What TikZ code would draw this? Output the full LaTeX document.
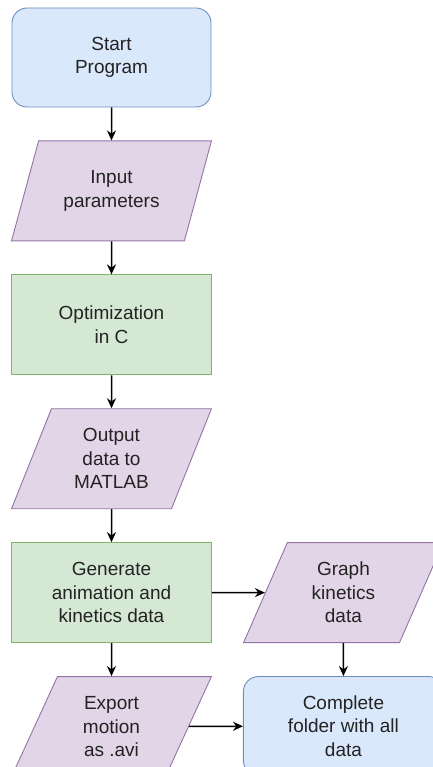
\documentclass[tikz,border=0pt]{standalone}
\usepackage{fontspec}
\setmainfont{Liberation Sans}
\usetikzlibrary{arrows.meta,shapes.geometric,positioning}
\definecolor{fcblue}{RGB}{218,232,252}
\definecolor{fcbluedraw}{RGB}{108,142,191}
\definecolor{fcgreen}{RGB}{213,232,212}
\definecolor{fcgreendraw}{RGB}{130,179,102}
\definecolor{fcpurple}{RGB}{225,213,231}
\definecolor{fcpurpledraw}{RGB}{150,115,166}
\definecolor{fctext}{RGB}{35,35,35}
\tikzstyle{arrow} = [line width=1.5pt,-{Stealth[length=10pt,width=9pt]},color=black]
\tikzstyle{terminal} = [rectangle, rounded corners=15pt, minimum width=199pt, minimum height=99pt, align=center, draw=fcbluedraw, fill=fcblue, line width=0.9pt]
\tikzstyle{process} = [rectangle, minimum width=200pt, minimum height=100pt, align=center, draw=fcgreendraw, fill=fcgreen, line width=0.9pt]
\tikzstyle{io} = [trapezium, trapezium left angle=68, trapezium right angle=112, trapezium stretches=true, minimum width=200pt, minimum height=100pt, align=center, draw=fcpurpledraw, fill=fcpurple, line width=0.9pt]

\begin{document}
\begin{tikzpicture}[node distance=33pt, font=\fontsize{19}{23.5}\selectfont, text=fctext]
\useasboundingbox (0,0) rectangle (432pt,-767pt);
% main column
\node[terminal] (start) at (111.5pt,-57.5pt) {Start\\Program};
\node[io, below=of start] (input) {Input\\parameters};
\node[process, below=of input] (optim) {Optimization\\in C};
\node[io, below=of optim] (output) {Output\\data to\\MATLAB};
\node[process, below=of output] (generate) {Generate\\animation and\\kinetics data};
\node[io, below=of generate] (export) {Export\\motion\\as .avi};

% right column
\node[io, right=53pt of generate] (graph) {Graph\\kinetics\\data};
\node[terminal, below=of graph, minimum width=200pt] (complete) {Complete\\folder with all\\data};

% connectors
\draw[arrow] (start) -- (input);
\draw[arrow] (input) -- (optim);
\draw[arrow] (optim) -- (output);
\draw[arrow] (output) -- (generate);
\draw[arrow] (generate) -- (export);
\draw[arrow] (generate) -- (graph);
\draw[arrow] (graph) -- (complete);
\draw[arrow] (export) -- (complete);
\end{tikzpicture}
\end{document}
